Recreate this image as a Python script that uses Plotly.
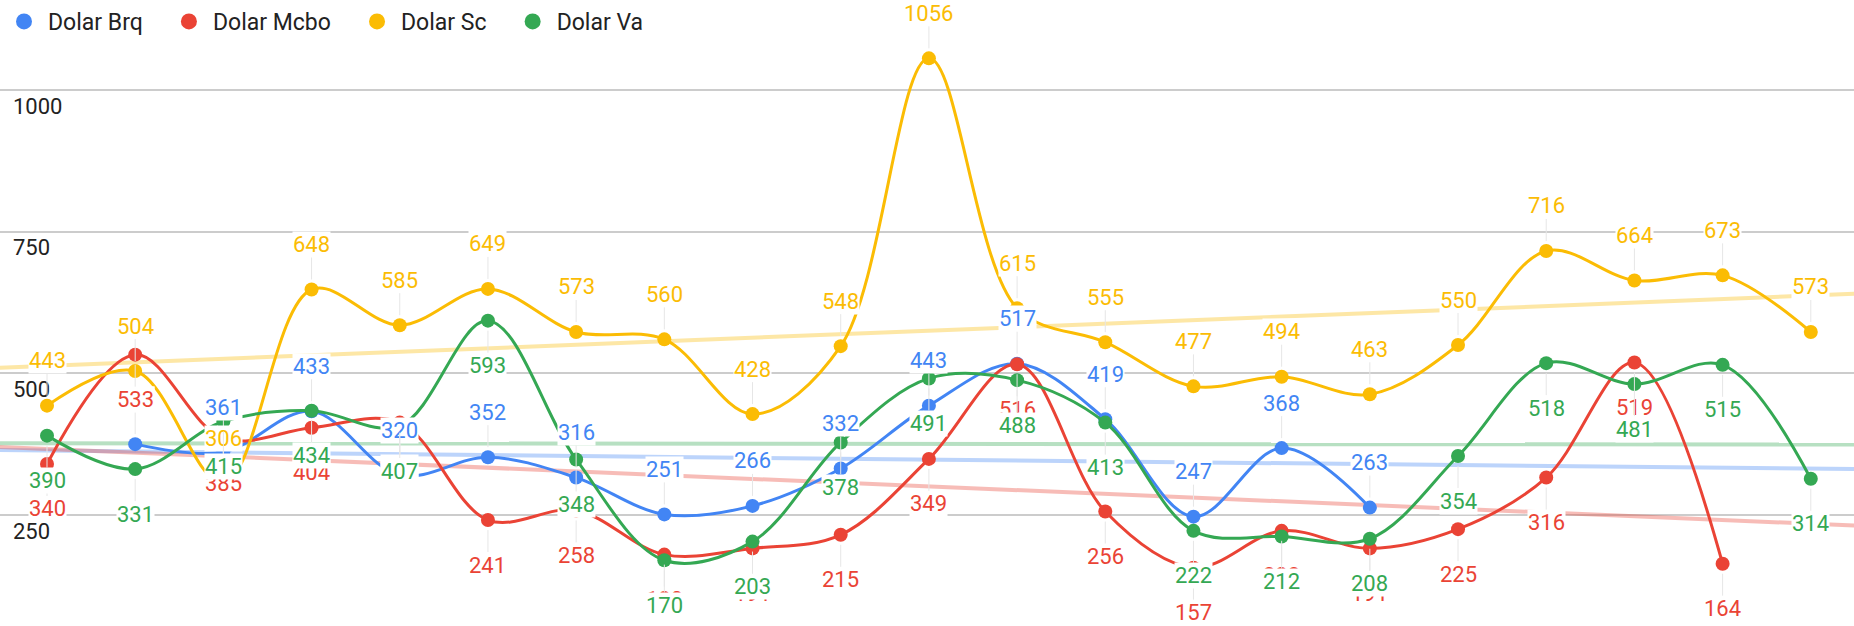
import numpy as np
import plotly.graph_objects as go

# ---- data ----
idx = list(range(21))
series_names = ["Dolar Brq", "Dolar Mcbo", "Dolar Sc", "Dolar Va"]
dolar_brq = [None, 375, 361, 433, 320, 352, 316, 251, 266, 332, 443, 517, 419, 247, 368, 263,
             None, None, None, None, None]
dolar_mcbo = [340, 533, 385, 404, 413, 241, 258, 180, 191, 215, 349, 516, 256, 157, 222, 191,
              225, 316, 519, 164, None]
dolar_sc = [443, 504, 306, 648, 585, 649, 573, 560, 428, 548, 1056, 615, 555, 477, 494, 463,
            550, 716, 664, 673, 573]
dolar_va = [390, 331, 415, 434, 407, 593, 348, 170, 203, 378, 491, 488, 413, 222, 212, 208,
            354, 518, 481, 515, 314]
y_ticks = [250, 500, 750, 1000]

# ---- styles ----
colors = ["#4285F4", "#EA4335", "#FBBC04", "#34A853"]
label_side = [-1, 1, -1, 1]          # -1 above, +1 below
label_offset = 45
font_family = "Roboto, Arial, sans-serif"
x_range = [-0.533, 20.49]
y_range = [54, 1159]
legend_pad = "\u00a0\u00a0\u00a0"

all_series = [dolar_brq, dolar_mcbo, dolar_sc, dolar_va]

fig = go.Figure()

# trend lines (linear regression over row index)
for name, vals, col in zip(series_names, all_series, colors):
    xs = np.array([i for i, v in zip(idx, vals) if v is not None], dtype=float)
    ys = np.array([v for v in vals if v is not None], dtype=float)
    slope, intercept = np.polyfit(xs, ys, 1)
    tx = np.array([x_range[0] - 0.2, x_range[1] + 0.2])
    fig.add_trace(go.Scatter(
        x=tx, y=slope * tx + intercept, mode="lines",
        line=dict(color=col, width=4), opacity=0.35,
        hoverinfo="skip", showlegend=False))

# main series
for name, vals, col in zip(series_names, all_series, colors):
    fig.add_trace(go.Scatter(
        x=idx, y=vals, mode="lines+markers", name=name,
        line=dict(color=col, width=3, shape="spline", smoothing=1.0),
        marker=dict(color=col, size=14),
        connectgaps=False, showlegend=False, cliponaxis=False))

# legend-only entries (circle symbols)
for name, col in zip(series_names, colors):
    fig.add_trace(go.Scatter(
        x=[None], y=[None], mode="markers", name=name + legend_pad,
        marker=dict(color=col, size=20), showlegend=True))

# data labels
annotations = []
for vals, col, side in zip(all_series, colors, label_side):
    for i, v in zip(idx, vals):
        if v is None:
            continue
        annotations.append(dict(
            x=i, y=v, xref="x", yref="y", text=str(v),
            showarrow=True, arrowhead=0, arrowwidth=1, arrowcolor="#e6e6e6",
            ax=0, ay=side * label_offset, standoff=10,
            font=dict(family=font_family, size=22, color=col),
            bgcolor="white", borderpad=0))

fig.update_layout(
    width=1854, height=626,
    margin=dict(l=0, r=0, t=0, b=0),
    paper_bgcolor="white", plot_bgcolor="white",
    font=dict(family=font_family, size=22, color="#222222"),
    showlegend=True,
    legend=dict(orientation="h", x=0.0, y=1.0, xanchor="left", yanchor="top",
                font=dict(family=font_family, size=23, color="#222222"),
                bgcolor="rgba(0,0,0,0)", itemwidth=38),
    annotations=annotations,
    hovermode=False,
)
fig.update_xaxes(range=x_range, showgrid=False, zeroline=False, showticklabels=False,
                 showline=False, ticks="")
fig.update_yaxes(range=y_range, tickvals=y_ticks, showgrid=True, gridcolor="#cccccc",
                 gridwidth=1.5, zeroline=False, showline=False, ticks="",
                 ticklabelposition="inside", ticklabelshift=16, ticklabelstandoff=10,
                 tickfont=dict(family=font_family, size=22, color="#222222"))

fig.write_html("out.html", config={"displayModeBar": False},
               post_script="document.body.style.margin='0';document.body.style.overflow='hidden';")
